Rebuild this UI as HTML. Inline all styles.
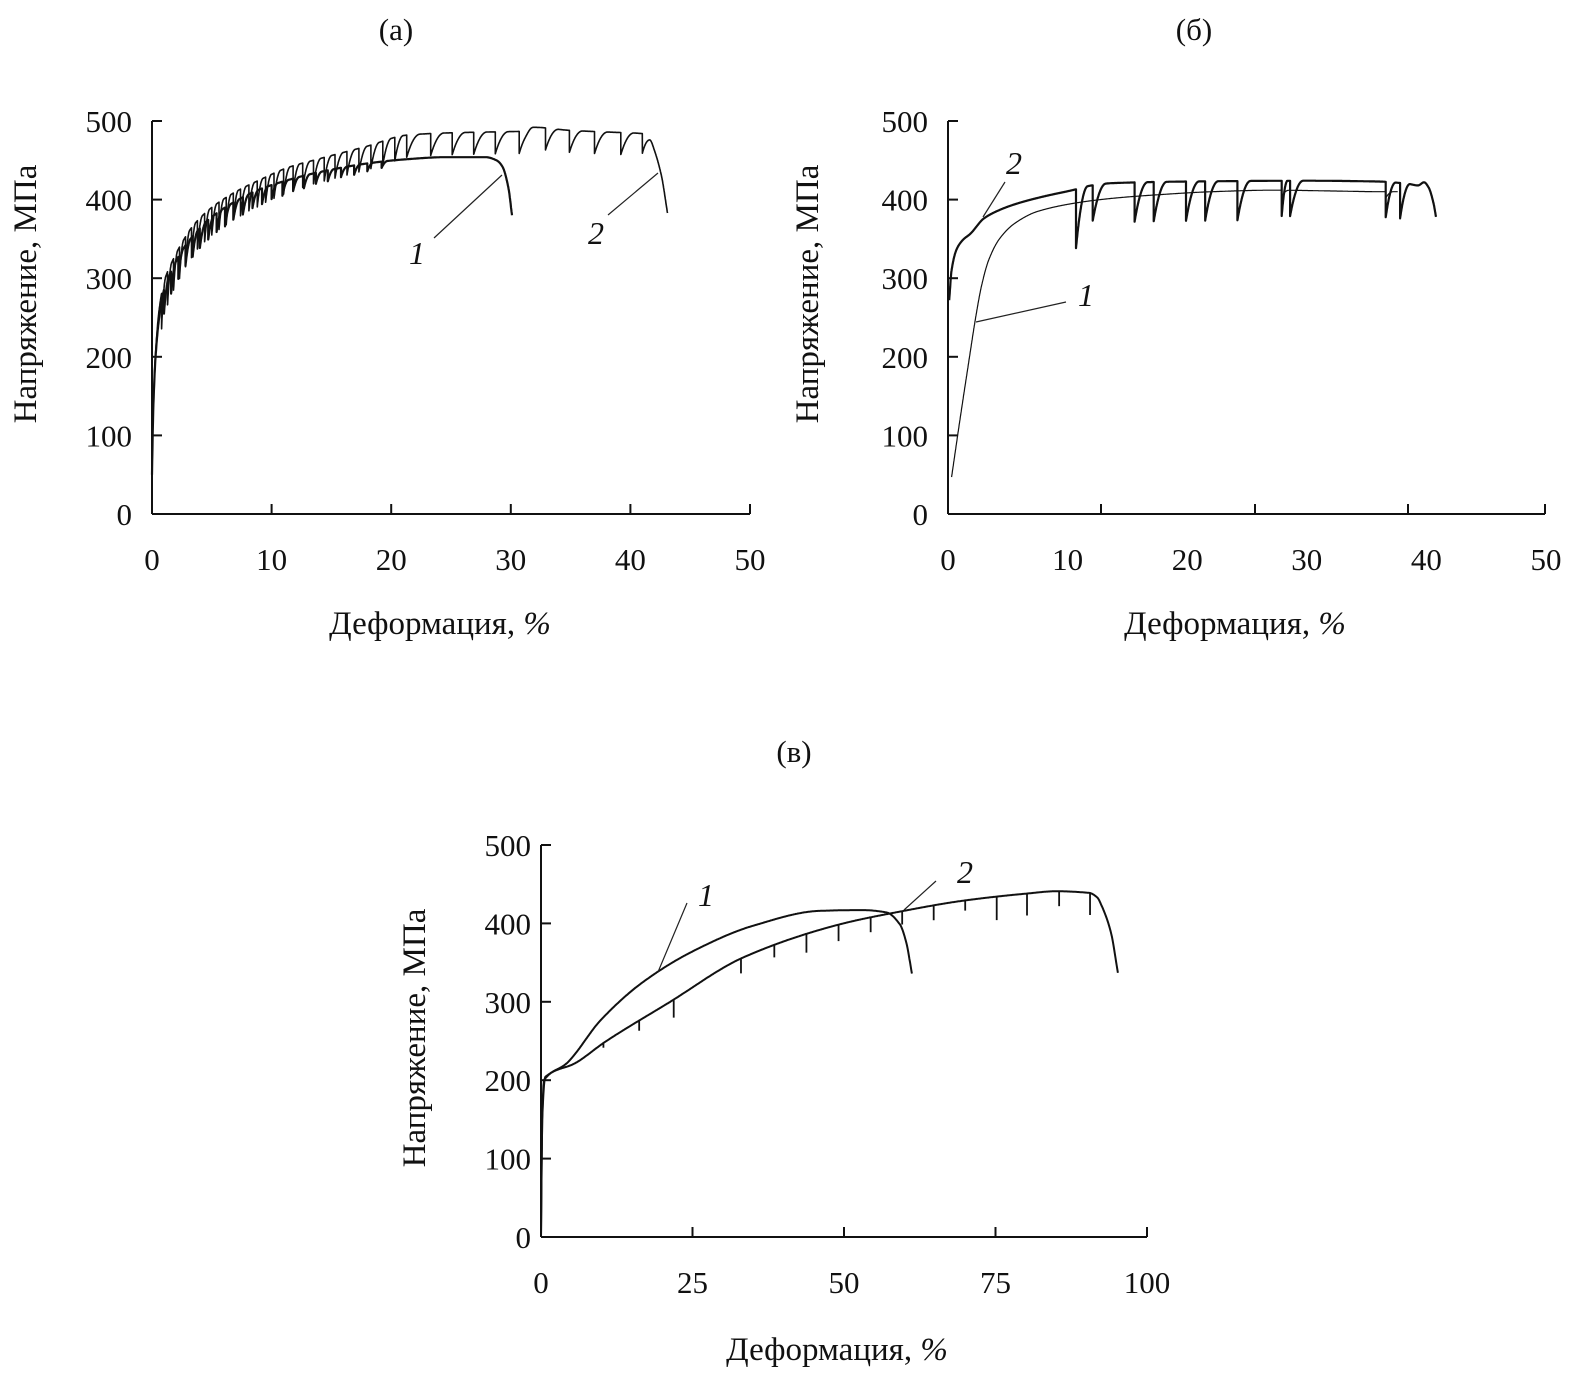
<!DOCTYPE html>
<html><head><meta charset="utf-8"><style>
html,body{margin:0;padding:0;background:#fff}
svg{display:block}
text{font-family:"Liberation Serif",serif;fill:#111}
</style></head><body>
<svg id="fig" width="1594" height="1385" viewBox="0 0 1594 1385" xmlns="http://www.w3.org/2000/svg">
<g id="pa"></g>
<g id="pb"></g>
<g id="pc"></g>
</svg>
<script>
// ---- Panel (a) data ----
const aC1X=[0,0.1,0.3,0.6,1,1.5,2.5,3.5,5,7,9,11.4,14,18,21,24.6,27.9,28.8,29.3,29.8,30.1];
const aC1Y=[50,130,200,250,285,305,335,355,378,398,413,425,435,446,451,454,454,450,442,415,380];
const aC1DipX=[1.0,1.6,2.2,2.8,3.4,4.0,4.7,5.4,6.1,6.8,7.6,8.4,9.2,10.0,10.9,11.8,12.7,13.7,14.7,15.8,16.9,18.0,19.2];
const aC1DipD=[30,28,28,26,26,25,25,24,24,22,22,20,20,18,18,16,16,14,14,12,12,10,8];
const aC2X=[0,0.1,0.3,0.6,1,1.5,2.5,3.5,5,7,9,11.4,14,18,21.3,25,28,31.2,31.9,35,38,41,41.6,42,42.6,43.1];
const aC2Y=[50,135,205,260,295,315,345,368,390,410,425,441,452,468,482,485,486,487,492,488,486,484,478,463,430,383];
const aC2DipX=[0.8,1.3,1.8,2.3,2.8,3.3,3.8,4.4,5.0,5.6,6.2,6.8,7.4,8.1,8.8,9.5,10.2,11.0,11.8,12.6,13.5,14.4,15.3,16.3,17.3,18.3,19.3,20.3,21.3,23.3,25.1,26.9,28.7,30.7,32.9,34.9,37.0,39.2,41.0];
const aC2DipD=[45,42,40,40,38,38,36,36,35,35,35,34,34,33,33,32,32,32,31,31,30,30,30,30,30,30,30,30,28,28,28,28,28,28,28,28,28,28,25];
// ---- Panel (б) data ----
const bC1X=[0.3,1,1.8,2.28,2.8,3.4,4.3,5.6,7.5,10.8,14,17.4,22,27.3,32,36.6,37.6];
const bC1Y=[47,120,200,247,290,323,350,370,385,396,402,406,410,412,411,410,410];
const bC1DipX=[27.9,36.6];
const bC1DipD=[8,8];
const bC2X=[0.1,0.3,0.7,1.2,1.9,3,4.5,6,8,10.4,12,13.8,20,30,36,38.5,39.3,39.8,40.2,40.6,40.8];
const bC2Y=[272,310,336,348,357,376,388,396,404,412,418,421,423,424,423,420,418,422,415,395,378];
const bC2DipX=[10.7,12.1,15.6,17.2,19.9,21.5,24.2,27.9,28.6,36.6,37.8];
const bC2DipD=[75,45,50,50,50,50,50,45,45,45,45];
// ---- Panel (в) data ----
const cC1X=[0,0.2,0.5,4.3,9.9,16.8,25.2,35,46,53,57,59.2,60.3,61.2];
const cC1Y=[0,150,200,222,277,325,365,397,416,417,414,399,375,336];
const cC2X=[0,0.2,0.7,5.7,10.6,20.9,33.5,48.9,59.2,69.7,80.1,85,90.4,91.8,92.6,94,95.2];
const cC2Y=[0,150,204,222,249,298,357,398,415,429,438,441,439,433,421,390,337];
const cSpikeX=[10.3,16.2,21.9,33.0,38.5,43.8,49.1,54.4,59.6,64.8,70.0,75.2,80.2,85.5,90.6];
const cSpikeD=[6,13,23,19,16,24,21,19,17,19,13,30,28,19,28];
// ---- tick labels ----
const yTicks=[0,100,200,300,400,500];
const abXLabels=[0,10,20,30,40,50];
const cXLabels=[0,25,50,75,100];

const NS="http://www.w3.org/2000/svg";
function mk(parent,tag,attrs,txt){const e=document.createElementNS(NS,tag);for(const k in attrs)e.setAttribute(k,attrs[k]);if(txt!==undefined)e.textContent=txt;parent.appendChild(e);return e;}
function interp(xs,ys,x){if(x<=xs[0])return ys[0];for(let i=1;i<xs.length;i++){if(x<=xs[i]){const t=(x-xs[i-1])/(xs[i]-xs[i-1]);return ys[i-1]+t*(ys[i]-ys[i-1]);}}return ys[ys.length-1];}
function interpS(xs,ys,x){
  const n=xs.length;if(x<=xs[0])return ys[0];if(x>=xs[n-1])return ys[n-1];
  let i=1;while(x>xs[i])i++;
  const d=[];for(let k=0;k<n-1;k++)d.push((ys[k+1]-ys[k])/(xs[k+1]-xs[k]));
  const m=new Array(n);m[0]=d[0];m[n-1]=d[n-2];
  for(let k=1;k<n-1;k++){m[k]=(d[k-1]*d[k]<=0)?0:2/(1/d[k-1]+1/d[k]);}
  const h=xs[i]-xs[i-1],t=(x-xs[i-1])/h;
  const h00=2*t*t*t-3*t*t+1,h10=t*t*t-2*t*t+t,h01=-2*t*t*t+3*t*t,h11=t*t*t-t*t;
  return h00*ys[i-1]+h10*h*m[i-1]+h01*ys[i]+h11*h*m[i];
}
function curvePath(xs,ys,dx,dd,sx,sy,wMax,smooth,step){
  const f=smooth?interpS:interp;step=step||0.02;
  const pts=[];const x0=xs[0],x1=xs[xs.length-1];
  let xsamp=[];for(let x=x0;x<=x1+1e-9;x+=step)xsamp.push(x);
  xs.forEach(v=>xsamp.push(v));
  dx.forEach(d=>{xsamp.push(d-0.001);xsamp.push(d+0.001);});
  xsamp.sort((a,b)=>a-b);
  for(const x of xsamp){
    if(x<x0||x>x1)continue;
    let y=f(xs,ys,x);
    for(let i=0;i<dx.length;i++){
      const sp=i+1<dx.length?dx[i+1]-dx[i]:1.2;
      const w=Math.min(0.7*sp,wMax);
      if(x>=dx[i]&&x<dx[i]+w){const t=(x-dx[i])/w;y-=dd[i]*(1-t)*(1-t);}
    }
    pts.push(sx(x).toFixed(1)+","+sy(y).toFixed(1));
  }
  return "M"+pts.join("L");
}
function axes(g,ox,oy,topY,rightX,sx,sy,xLabels,xTickVals,labOff){
  mk(g,"line",{x1:ox,y1:oy,x2:ox,y2:topY,stroke:"#111","stroke-width":2});
  mk(g,"line",{x1:ox,y1:oy,x2:rightX,y2:oy,stroke:"#111","stroke-width":2});
  yTicks.forEach(v=>{
    const y=sy(v);
    if(v>0){const t=mk(g,"line",{x1:ox,y1:y,x2:ox+10,y2:y,stroke:"#111","stroke-width":2});
    
    }
    const l=mk(g,"text",{x:ox-labOff,y:y+11,"font-size":31,"text-anchor":"end"},String(v));
    
    
  });
  xTickVals.forEach(px=>{
    const t=mk(g,"line",{x1:px,y1:oy,x2:px,y2:oy-10,stroke:"#111","stroke-width":2});
    
    
  });
  xLabels.forEach(v=>{
    const l=mk(g,"text",{x:sx(v),y:oy+56,"font-size":31,"text-anchor":"middle"},String(v));
    
    
  });
}
function ytitle(g,x,y){const t=mk(g,"text",{x:x,y:y,"font-size":33,"text-anchor":"middle",transform:`rotate(-90 ${x} ${y})`},"Напряжение, МПа");

}
function xtitle(g,x,y){const t=mk(g,"text",{x:x,y:y,"font-size":33,"text-anchor":"middle"});


mk(t,"tspan",{},"Деформация, ");mk(t,"tspan",{"font-style":"italic"},"%");}
function ptitle(g,x,y,s){const t=mk(g,"text",{x:x,y:y,"font-size":31,"text-anchor":"middle"},s);

}
function label(g,x,y,s,lx1,ly1,lx2,ly2){
  const ln=mk(g,"line",{x1:lx1,y1:ly1,x2:lx2,y2:ly2,stroke:"#222","stroke-width":1.2});
  
  
  const t=mk(g,"text",{x:x,y:y,"font-size":32,"font-style":"italic","text-anchor":"middle"},s);
  
  
}
function series(g,d,w,name){const p=mk(g,"path",{d:d,fill:"none",stroke:"#111","stroke-width":w,"stroke-linejoin":"round"});

}

// Panel (a)
(function(){
  const g=document.getElementById("pa");
  const sx=v=>152+v*11.96, sy=v=>514-v*0.786;
  axes(g,152,514,sy(500),sx(50),sx,sy,abXLabels,abXLabels.slice(1).map(sx),20);
  series(g,curvePath(aC1X,aC1Y,aC1DipX,aC1DipD,sx,sy,0.5,true),2.2,"curve-1");
  series(g,curvePath(aC2X,aC2Y,aC2DipX,aC2DipD,sx,sy,1.1,true),1.6,"curve-2");
  label(g,417,264,"1",434,238,502,175);
  label(g,596,244,"2",608,215,658,173);
  ytitle(g,36,294);xtitle(g,440,634);ptitle(g,396,40,"(а)");
})();
// Panel (б)
(function(){
  const g=document.getElementById("pb");
  const sx=v=>948+v*11.96, sy=v=>514-v*0.786;
  axes(g,948,514,sy(500),1545,sx,sy,abXLabels,[1101,1255,1408,1545],20);
  series(g,curvePath(bC1X,bC1Y,bC1DipX,bC1DipD,sx,sy,0.6,true),1.2,"curve-1");
  series(g,curvePath(bC2X,bC2Y,bC2DipX,bC2DipD,sx,sy,1.1,true),2.2,"curve-2");
  label(g,1086,306,"1",1066,302,976,322);
  label(g,1014,174,"2",1005,182,983,217);
  ytitle(g,818,294);xtitle(g,1235,634);ptitle(g,1194,40,"(б)");
})();
// Panel (в)
(function(){
  const g=document.getElementById("pc");
  const sx=v=>541+v*6.06, sy=v=>1237-v*0.784;
  axes(g,541,1237,sy(500),sx(100),sx,sy,cXLabels,cXLabels.slice(1).map(sx),10);
  series(g,curvePath(cC1X,cC1Y,[],[],sx,sy,1,true,0.1),2,"curve-1");
  series(g,curvePath(cC2X,cC2Y,[],[],sx,sy,1,true,0.1),2,"curve-2");
  cSpikeX.forEach((x,i)=>{const y=interpS(cC2X,cC2Y,x);
    const s=mk(g,"line",{x1:sx(x),y1:sy(y),x2:sx(x),y2:sy(y-cSpikeD[i]),stroke:"#111","stroke-width":1.8});
    
    });
  label(g,706,906,"1",687,903,658,972);
  label(g,965,883,"2",936,881,904,910);
  ytitle(g,425,1038);xtitle(g,837,1360);ptitle(g,794,762,"(в)");
})();
</script>
</body></html>
